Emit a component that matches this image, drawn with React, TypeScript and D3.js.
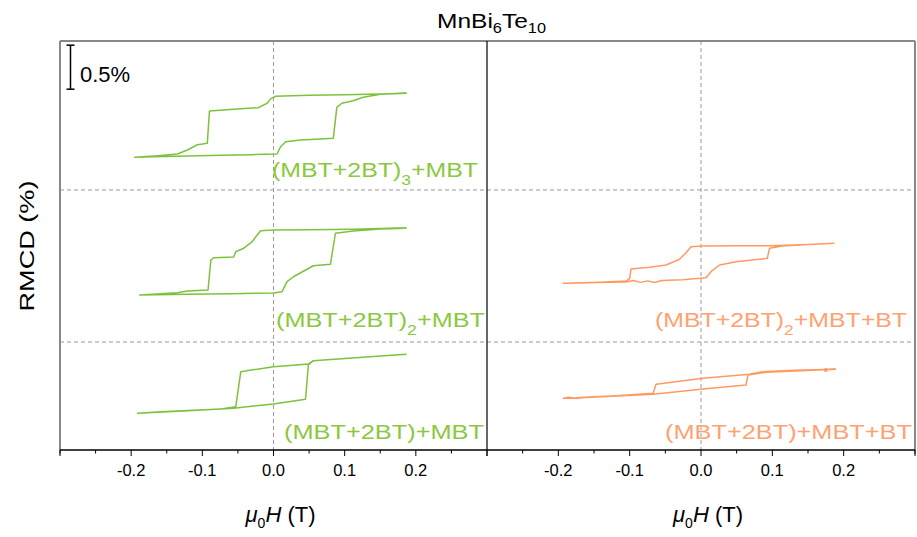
import React from "react";
import * as d3 from "d3";

const W = 917;
const H = 537;

// Field ticks (T)
const majorTicks = [-0.3, -0.2, -0.1, 0.0, 0.1, 0.2, 0.3];
const minorTicks = [-0.25, -0.15, -0.05, 0.05, 0.15, 0.25];
const tickLabels = ["-0.2", "-0.1", "0.0", "0.1", "0.2"];
const labelTickValues = [-0.2, -0.1, 0.0, 0.1, 0.2];

// Horizontal separators (RMCD %, plotted units)
const separators = [1.227, 2.955];

// Curve A: (MBT+2BT)3+MBT  (loop: down-sweep then up-sweep)
const fieldA = [0.187, 0.15, 0.1, 0.05, 0.003, -0.004, -0.009, -0.021, -0.04, -0.056, -0.075, -0.09, -0.093, -0.1, -0.107, -0.121, -0.135, -0.15, -0.167, -0.195,
  -0.17, -0.121, -0.074, -0.03, 0.005, 0.01, 0.017, 0.038, 0.066, 0.084, 0.089, 0.096, 0.112, 0.126, 0.15, 0.187];
const rmcdA = [4.053, 4.045, 4.036, 4.03, 4.02, 3.99, 3.94, 3.89, 3.88, 3.872, 3.862, 3.852, 3.485, 3.476, 3.469, 3.409, 3.364, 3.352, 3.341, 3.326,
  3.333, 3.341, 3.349, 3.356, 3.364, 3.447, 3.503, 3.523, 3.534, 3.542, 3.894, 3.94, 3.969, 4.008, 4.042, 4.053];

// Curve B: (MBT+2BT)2+MBT
const fieldB = [0.187, 0.112, 0.05, 0.0, -0.018, -0.023, -0.03, -0.042, -0.053, -0.056, -0.084, -0.088, -0.092, -0.121, -0.135, -0.188,
  -0.121, -0.06, 0.0, 0.012, 0.019, 0.028, 0.056, 0.08, 0.087, 0.112, 0.15, 0.187];
const rmcdB = [2.526, 2.508, 2.503, 2.5, 2.492, 2.443, 2.367, 2.292, 2.253, 2.193, 2.185, 2.159, 1.818, 1.807, 1.788, 1.761,
  1.769, 1.776, 1.784, 1.799, 1.913, 1.969, 2.094, 2.11, 2.463, 2.489, 2.51, 2.519];

// Curve C: (MBT+2BT)+MBT
const fieldC = [0.187, 0.12, 0.056, 0.049, 0.0, -0.046, -0.053, -0.074, -0.158, -0.191,
  -0.12, -0.056, 0.0, 0.045, 0.049, 0.056];
const rmcdC = [1.088, 1.05, 1.015, 0.977, 0.947, 0.89, 0.492, 0.466, 0.435, 0.417,
  0.445, 0.474, 0.523, 0.576, 0.966, 1.015];

// Curve D: (MBT+2BT)2+MBT+BT
const fieldD = [0.187, 0.15, 0.096, 0.05, 0.003, -0.014, -0.021, -0.03, -0.049, -0.072, -0.098, -0.1, -0.105, -0.142, -0.17, -0.193,
  -0.16, -0.13, -0.105, -0.095, -0.085, -0.075, -0.065, -0.055, -0.026, 0.007, 0.014, 0.026, 0.049, 0.093, 0.096, 0.114, 0.15, 0.187];
const rmcdD = [2.349, 2.335, 2.322, 2.32, 2.318, 2.31, 2.242, 2.167, 2.102, 2.076, 2.057, 1.951, 1.92, 1.906, 1.9, 1.894,
  1.9, 1.905, 1.91, 1.925, 1.905, 1.922, 1.904, 1.925, 1.935, 1.958, 2.026, 2.102, 2.14, 2.178, 2.292, 2.318, 2.335, 2.349];

// Curve E: (MBT+2BT)+MBT+BT
const fieldE = [0.189, 0.13, 0.086, 0.068, 0.003, -0.063, -0.067, -0.119, -0.15, -0.17, -0.18, -0.193,
  -0.185, -0.175, -0.16, -0.067, 0.003, 0.063, 0.066, 0.091, 0.14, 0.189];
const rmcdE = [0.917, 0.905, 0.89, 0.86, 0.815, 0.747, 0.644, 0.617, 0.605, 0.598, 0.588, 0.588,
  0.6, 0.585, 0.598, 0.633, 0.693, 0.739, 0.852, 0.883, 0.9, 0.917];

const GREEN = "#7dc23c";
const GREEN_TXT = "#8cc83f";
const ORANGE = "#ff9a62";
const ORANGE_TXT = "#ffa272";
const FONT = "'Liberation Sans', Arial, Helvetica, sans-serif";

const top = 41;
const bottom = 450;
const leftX0 = 60;
const midX = 487;
const rightX1 = 915;

const yScale = d3.scaleLinear().domain([0, (bottom - top) / 88]).range([bottom, top]);
const xLeft = d3.scaleLinear().domain([-0.3, 0.3]).range([leftX0, midX]);
const xRight = d3.scaleLinear().domain([-0.3, 0.3]).range([midX, rightX1]);

function zipPts(f: number[], r: number[]): [number, number][] {
  return f.map((v, i) => [v, r[i]]);
}

function curvePath(xs: d3.ScaleLinear<number, number>, pts: [number, number][]) {
  return d3
    .line<[number, number]>()
    .x((d) => xs(d[0]))
    .y((d) => yScale(d[1]))(pts) as string;
}

function Axis({ xs }: { xs: d3.ScaleLinear<number, number> }) {
  return (
    <g>
      {majorTicks.map((t) => (
        <line key={"M" + t} x1={xs(t)} x2={xs(t)} y1={bottom} y2={bottom + 6} stroke="#000" strokeWidth={1} />
      ))}
      {minorTicks.map((t) => (
        <line key={"m" + t} x1={xs(t)} x2={xs(t)} y1={bottom} y2={bottom + 3.5} stroke="#000" strokeWidth={1} />
      ))}
      {labelTickValues.map((t, i) => (
        <text key={"l" + t} x={xs(t)} y={476} textAnchor="middle" fontSize={16.5} fontFamily={FONT} fill="#000">
          {tickLabels[i]}
        </text>
      ))}
      <text x={xs(0) + 7} y={522} textAnchor="middle" fontSize={22} fontFamily={FONT} fill="#000">
        <tspan fontStyle="italic">μ</tspan>
        <tspan fontSize={14} dy={6}>0</tspan>
        <tspan fontStyle="italic" dy={-6}>H</tspan>
        <tspan> (T)</tspan>
      </text>
    </g>
  );
}

function Label({ x, y, len, main, sub, rest, color }: { x: number; y: number; len: number; main: string; sub?: string; rest: string; color: string }) {
  return (
    <text x={x} y={y} fontSize={20} fontFamily={FONT} fill={color} textLength={len} lengthAdjust="spacingAndGlyphs">
      <tspan>{main}</tspan>
      {sub ? (
        <>
          <tspan fontSize={14} dy={8}>{sub}</tspan>
          <tspan dy={-8}>{rest}</tspan>
        </>
      ) : (
        <tspan>{rest}</tspan>
      )}
    </text>
  );
}

export default function App() {
  const dash = "4,3";
  return (
    <svg width={W} height={H} style={{ position: "absolute", left: 0, top: 0, background: "#fff" }}>
      {/* title */}
      <text x={437} y={28} fontSize={21} fontFamily={FONT} fill="#000" textLength={109} lengthAdjust="spacingAndGlyphs">
        <tspan>MnBi</tspan>
        <tspan fontSize={14} dy={5}>6</tspan>
        <tspan dy={-5}>Te</tspan>
        <tspan fontSize={14} dy={5}>10</tspan>
      </text>

      {/* y label */}
      <text
        transform={`translate(34,${246}) rotate(-90)`}
        fontSize={21}
        fontFamily={FONT}
        fill="#000"
        textLength={131}
        lengthAdjust="spacingAndGlyphs"
        x={-65.5}
      >
        RMCD (%)
      </text>

      {/* dashed guides */}
      {separators.map((s) => (
        <line key={s} x1={leftX0} x2={rightX1} y1={yScale(s)} y2={yScale(s)} stroke="#999" strokeWidth={1} strokeDasharray={dash} />
      ))}
      <line x1={xLeft(0)} x2={xLeft(0)} y1={top} y2={bottom} stroke="#999" strokeWidth={1} strokeDasharray={dash} />
      <line x1={xRight(0)} x2={xRight(0)} y1={top} y2={bottom} stroke="#999" strokeWidth={1} strokeDasharray={dash} />

      {/* curves */}
      <g fill="none" strokeWidth={1.5} strokeLinejoin="round">
        <path d={curvePath(xLeft, zipPts(fieldA, rmcdA))} stroke={GREEN} />
        <path d={curvePath(xLeft, zipPts(fieldB, rmcdB))} stroke={GREEN} />
        <path d={curvePath(xLeft, zipPts(fieldC, rmcdC))} stroke={GREEN} />
        <path d={curvePath(xRight, zipPts(fieldD, rmcdD))} stroke={ORANGE} />
        <path d={curvePath(xRight, zipPts(fieldE, rmcdE))} stroke={ORANGE} />
      </g>
      <circle cx={xRight(0.175)} cy={yScale(0.909)} r={2} fill={ORANGE} />

      {/* labels */}
      <Label x={272} y={177} len={206} main="(MBT+2BT)" sub="3" rest="+MBT" color={GREEN_TXT} />
      <Label x={276} y={327} len={209} main="(MBT+2BT)" sub="2" rest="+MBT" color={GREEN_TXT} />
      <Label x={284} y={439} len={200} main="(MBT+2BT)" rest="+MBT" color={GREEN_TXT} />
      <Label x={655} y={327} len={252} main="(MBT+2BT)" sub="2" rest="+MBT+BT" color={ORANGE_TXT} />
      <Label x={665} y={439} len={247} main="(MBT+2BT)" rest="+MBT+BT" color={ORANGE_TXT} />

      {/* scale bar */}
      <g stroke="#000" strokeWidth={1.5}>
        <line x1={70.5} x2={70.5} y1={yScale(4.6)} y2={yScale(4.1)} />
        <line x1={66.5} x2={74.5} y1={yScale(4.6)} y2={yScale(4.6)} />
        <line x1={66.5} x2={74.5} y1={yScale(4.1)} y2={yScale(4.1)} />
      </g>
      <text x={80} y={82} fontSize={22} fontFamily={FONT} fill="#000">0.5%</text>

      {/* frame */}
      <line x1={leftX0} x2={rightX1} y1={top} y2={top} stroke="#888" strokeWidth={2} />
      <line x1={leftX0} x2={leftX0} y1={top} y2={bottom + 4} stroke="#888" strokeWidth={2} />
      <line x1={rightX1} x2={rightX1} y1={top} y2={bottom + 4} stroke="#888" strokeWidth={2} />
      <line x1={midX} x2={midX} y1={top} y2={bottom} stroke="#000" strokeWidth={1.2} />
      <line x1={leftX0} x2={rightX1} y1={bottom} y2={bottom} stroke="#000" strokeWidth={1.5} />

      <Axis xs={xLeft} />
      <Axis xs={xRight} />
    </svg>
  );
}
